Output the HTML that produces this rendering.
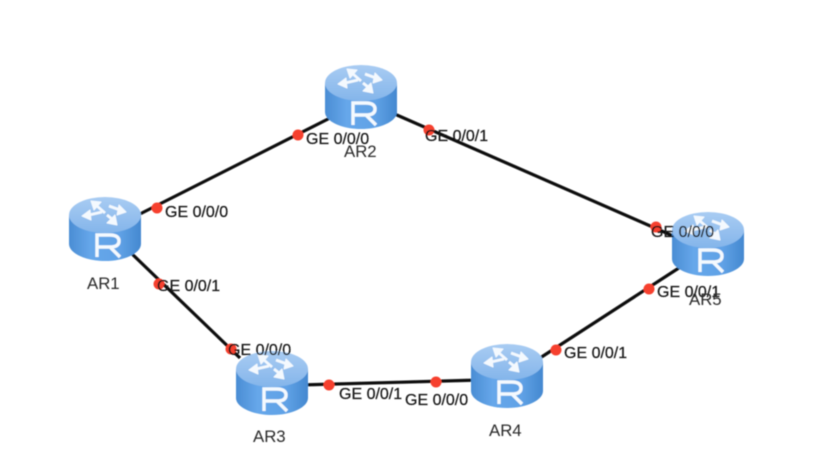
<!DOCTYPE html>
<html><head><meta charset="utf-8"><style>
html,body{margin:0;padding:0;background:#fff;width:825px;height:464px;overflow:hidden}
svg{display:block}
text{font-family:"Liberation Sans",sans-serif;font-size:16px;fill:#151515;stroke:#151515;stroke-width:.2px}
text.n{font-size:16.800px;fill:#2a2a2a;stroke:none}
</style></head><body>
<svg width="825" height="464" viewBox="0 0 825 464" xmlns="http://www.w3.org/2000/svg">
<defs>
<filter id="soft" x="-5%" y="-5%" width="110%" height="110%"><feGaussianBlur stdDeviation="0.45"/></filter>
<linearGradient id="side" x1="0" x2="1" y1="0" y2="0">
<stop offset="0" stop-color="#4a8dd4"/><stop offset=".3" stop-color="#66a7ea"/><stop offset=".7" stop-color="#60a2e6"/><stop offset="1" stop-color="#4488d0"/>
</linearGradient>
<linearGradient id="top" x1="0" x2="0" y1="0" y2="1">
<stop offset="0" stop-color="#a9ccf3"/><stop offset="1" stop-color="#84b5ea"/>
</linearGradient>
<g id="r">
<path d="M-36 18V47C-36 56-20 64 0 64S36 56 36 47V18Z" fill="url(#side)"/>
<ellipse cx="0" cy="18" rx="36" ry="18" fill="url(#top)"/>
<g fill="#f4f9fe" stroke="#f4f9fe" stroke-width="2.800" stroke-linejoin="round">
<path d="M0 16L-8 9" fill="none"/><path d="M-14 4L-4 5L-11 13Z" stroke-width="1"/>
<path d="M4 9L15 13" fill="none"/><path d="M21 15L12 18L14 8Z" stroke-width="1"/>
<path d="M-3 15L-16 18" fill="none"/><path d="M-23 19L-15 13L-14 23Z" stroke-width="1"/>
<path d="M2 18L7 22" fill="none"/><path d="M12 28L2 26L10 18Z" stroke-width="1"/>
</g>
<path d="M-8 60V38H5C12 38 14 41 14 44C14 48 11 50 5 50H-8M5 50L15 60" fill="none" stroke="#f4f9fe" stroke-width="3.400"/>
</g>
</defs>
<g filter="url(#soft)">
<g stroke="#0d0d0d" stroke-width="3.200" fill="none">
<line x1="132" y1="218" x2="330" y2="118"/>
<line x1="390" y1="112" x2="680" y2="239"/>
<line x1="130" y1="252" x2="240" y2="358"/>
<line x1="300" y1="385" x2="480" y2="380"/>
<line x1="540" y1="358" x2="685" y2="264"/>
</g>
<use href="#r" x="105" y="197"/>
<use href="#r" x="361" y="65"/>
<use href="#r" x="272" y="351"/>
<use href="#r" x="507" y="344"/>
<use href="#r" x="708" y="212"/>
<g fill="#f6412f">
<circle cx="157" cy="208" r="5.500"/>
<circle cx="298" cy="135" r="5.500"/>
<circle cx="429" cy="130" r="5.500"/>
<circle cx="656" cy="227" r="5.500"/>
<circle cx="159" cy="284" r="5.500"/>
<circle cx="231" cy="349" r="5.500"/>
<circle cx="329" cy="385" r="5.500"/>
<circle cx="436" cy="382" r="5.500"/>
<circle cx="556" cy="350" r="5.500"/>
<circle cx="649" cy="289" r="5.500"/>
</g>
<text x="165" y="217">GE 0/0/0</text>
<text x="306" y="144">GE 0/0/0</text>
<text x="425" y="141">GE 0/0/1</text>
<text x="651" y="237">GE 0/0/0</text>
<text x="157" y="291">GE 0/0/1</text>
<text x="228" y="355">GE 0/0/0</text>
<text x="339" y="399">GE 0/0/1</text>
<text x="405" y="405">GE 0/0/0</text>
<text x="564" y="358">GE 0/0/1</text>
<text x="657" y="297">GE 0/0/1</text>
<text class="n" x="87" y="289">AR1</text>
<text class="n" x="344" y="157">AR2</text>
<text class="n" x="253" y="442">AR3</text>
<text class="n" x="489" y="436">AR4</text>
<text class="n" x="689" y="305">AR5</text>
</g>
</svg>
</body></html>
